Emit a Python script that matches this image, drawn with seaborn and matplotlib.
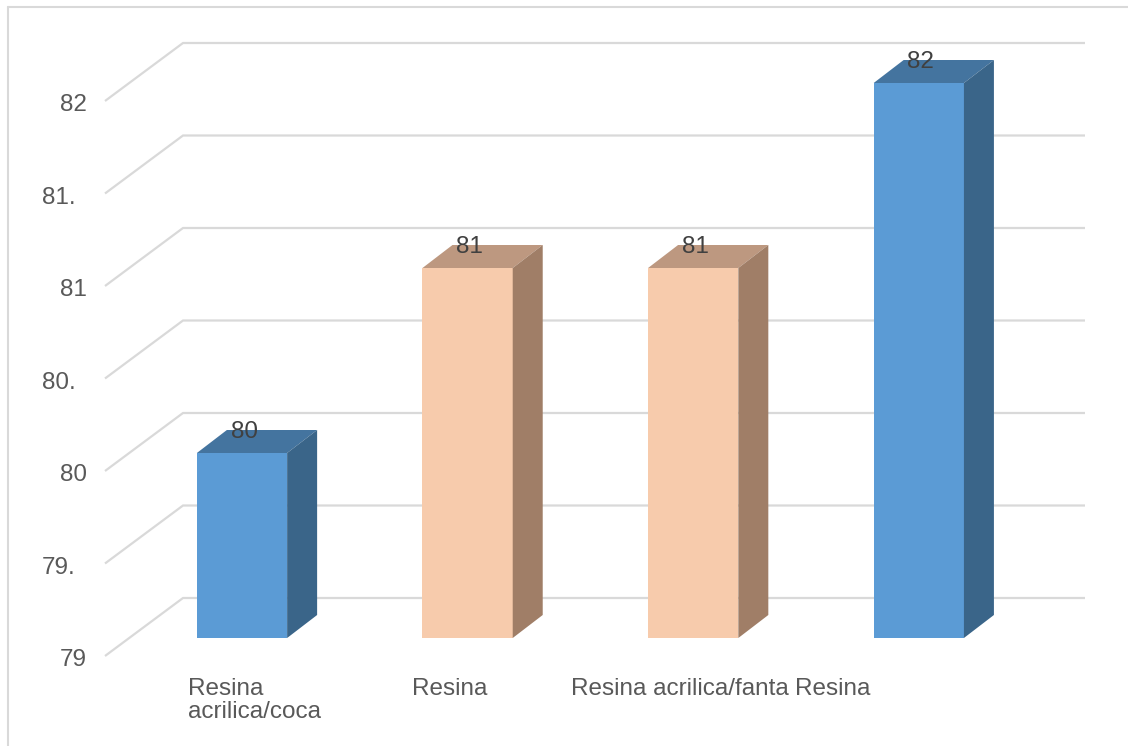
import matplotlib
matplotlib.use("Agg")
import matplotlib.pyplot as plt
from matplotlib.lines import Line2D
from matplotlib.patches import Polygon
import seaborn as sns

# Chart content
positions = [0, 1, 2, 3]
values = [80, 81, 81, 82]
category_labels = ["Resina\nacrilica/coca", "Resina", "Resina acrilica/fanta", "Resina"]
axis_levels = [79, 79.5, 80, 80.5, 81, 81.5, 82]
axis_labels = ["79", "79.", "80", "80.", "81", "81.", "82"]

# Colours of the three visible faces of each bar
face_colors = ["#5B9BD5", "#F7CBAC", "#F7CBAC", "#5B9BD5"]
top_colors = ["#44749F", "#BD9880", "#BD9880", "#44749F"]
side_colors = ["#3A6589", "#A07E67", "#A07E67", "#3A6589"]
GRID = "#D9D9D9"
TEXT = "#595959"
VALUE_TEXT = "#404040"

WIDTH, HEIGHT, DPI = 1128, 746, 100
PX_PER_CAT = 225.6
PX_PER_UNIT = 185.0
ORIGIN_X, BASE_Y = 242.0, 638.0   # pixel position of category 0 and of value 79

sns.set_style("white")
plt.rcParams["font.family"] = ["Liberation Sans", "DejaVu Sans"]

fig = plt.figure(figsize=(WIDTH / DPI, HEIGHT / DPI), dpi=DPI)
ax = fig.add_axes([0, 0, 1, 1])
sns.barplot(x=positions, y=values, hue=positions, palette=face_colors,
            legend=False, width=0.4, saturation=1, ax=ax, zorder=3)

# One data unit per category along x, 79 at the floor along y
ax.set_xlim(-ORIGIN_X / PX_PER_CAT, (WIDTH - ORIGIN_X) / PX_PER_CAT)
ax.set_ylim(79 - (HEIGHT - BASE_Y) / PX_PER_UNIT, 79 + BASE_Y / PX_PER_UNIT)
ax.axis("off")


def dx(px):
    return px / PX_PER_CAT


def dy(px):
    return px / PX_PER_UNIT


def x_at(px):
    return (px - ORIGIN_X) / PX_PER_CAT


# Perspective gridlines: front corner, back corner, then along the back wall
for level, label in zip(axis_levels, axis_labels):
    back_y = level + dy(40)
    front_y = level - dy(18)
    ax.plot([x_at(105), x_at(183), x_at(1085)], [front_y, back_y, back_y],
            color=GRID, lw=1.6, zorder=1, solid_joinstyle="miter",
            solid_capstyle="butt")
    ax.text(x_at(60 if len(label) == 2 else 42), front_y - dy(2), label,
            color=TEXT, fontsize=17.5, ha="left", va="center_baseline")

# Base the bars on the floor and extrude a top and side face from each
DEPTH_X, DEPTH_Y = 30, 23
for bar, value, top_c, side_c in zip(ax.patches, values, top_colors, side_colors):
    bar.set_y(79)
    bar.set_height(value - 79)
    bar.set_linewidth(0)
    x0, x1 = bar.get_x(), bar.get_x() + bar.get_width()
    ox, oy = dx(DEPTH_X), dy(DEPTH_Y)
    ax.add_patch(Polygon([(x0, value), (x1, value), (x1 + ox, value + oy), (x0 + ox, value + oy)],
                         closed=True, facecolor=top_c, edgecolor="none", zorder=3))
    ax.add_patch(Polygon([(x1, 79), (x1 + ox, 79 + oy), (x1 + ox, value + oy), (x1, value)],
                         closed=True, facecolor=side_c, edgecolor="none", zorder=3))
    ax.text((x0 + x1) / 2 + dx(2), value + dy(23), f"{value}", color=VALUE_TEXT,
            fontsize=17.5, ha="center", va="center_baseline", zorder=5)

# Category labels below the floor
label_x = [188, 412, 571, 795]
for px, text in zip(label_x, category_labels):
    ax.text(x_at(px), 79 - dy(40), text, color=TEXT, fontsize=17.5, ha="left",
            va="top", linespacing=1.08)

# Chart-area frame on the top and left
for xs, ys in [((7.5, WIDTH), (6.5, 6.5)), ((7.5, 7.5), (6.5, HEIGHT))]:
    fig.add_artist(Line2D([x / WIDTH for x in xs], [1 - y / HEIGHT for y in ys],
                          color=GRID, lw=1.5))

fig.savefig("out.png", dpi=DPI, facecolor="white")
